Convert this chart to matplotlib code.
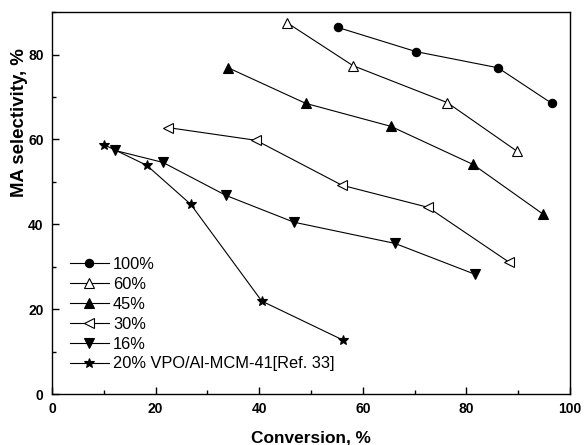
import matplotlib
matplotlib.use("Agg")
import matplotlib.pyplot as plt
from matplotlib.ticker import MultipleLocator

plt.rcParams['font.family'] = ['Liberation Sans', 'DejaVu Sans']

labels = ["100%", "60%", "45%", "30%", "16%", "20% VPO/Al-MCM-41[Ref. 33]"]
x100 = [55.2, 70.3, 86.1, 96.5]
y100 = [86.4, 80.7, 76.9, 68.5]
x60 = [45.4, 58.1, 76.3, 89.8]
y60 = [87.5, 77.4, 68.7, 57.2]
x45 = [34.0, 49.0, 65.4, 81.3, 94.8]
y45 = [76.9, 68.5, 63.1, 54.1, 42.4]
x30 = [22.4, 39.4, 56.0, 72.6, 88.2]
y30 = [62.8, 59.8, 49.2, 44.0, 31.1]
x16 = [12.2, 21.4, 33.6, 46.7, 66.2, 81.7]
y16 = [57.4, 54.6, 46.8, 40.5, 35.5, 28.2]
xref = [10.0, 18.3, 26.8, 40.5, 56.2]
yref = [58.8, 53.9, 44.7, 21.9, 12.7]

fig = plt.figure(figsize=(5.84, 4.45), dpi=100)
ax = fig.add_axes([0.089, 0.1146, 0.887, 0.858])

series = [
    (x100, y100, dict(marker='o', mfc='black', ms=6)),
    (x60, y60, dict(marker='^', mfc='white', ms=6.5)),
    (x45, y45, dict(marker='^', mfc='black', ms=6.5)),
    (x30, y30, dict(marker='<', mfc='white', ms=6.5)),
    (x16, y16, dict(marker='v', mfc='black', ms=6.5)),
    (xref, yref, dict(marker='*', mfc='black', ms=7.5)),
]
for (xs, ys, st), lab in zip(series, labels):
    ax.plot(xs, ys, color='black', lw=0.8, mec='black', mew=0.8, label=lab, **st)

ax.set_xlim(0, 100)
ax.set_ylim(0, 90)
ax.xaxis.set_major_locator(MultipleLocator(20))
ax.xaxis.set_minor_locator(MultipleLocator(10))
ax.yaxis.set_major_locator(MultipleLocator(20))
ax.yaxis.set_minor_locator(MultipleLocator(10))
ax.tick_params(which='both', direction='in', top=False, right=False, width=1.0)
ax.tick_params(which='major', length=5, labelsize=10, pad=6)
ax.tick_params(which='minor', length=3)
for lbl in ax.get_xticklabels() + ax.get_yticklabels():
    lbl.set_fontweight('bold')
for s in ax.spines.values():
    s.set_linewidth(1.0)

ax.set_xlabel('Conversion, %', fontsize=12.4, fontweight='bold', labelpad=10)
ax.set_ylabel('MA selectivity, %', fontsize=13.4, fontweight='bold')
ax.yaxis.set_label_coords(-0.046, 0.71)

leg = ax.legend(loc='upper left', bbox_to_anchor=(0.015, 0.385), frameon=False,
                fontsize=11.8, handlelength=2.4, handletextpad=0.25,
                labelspacing=0.3, borderaxespad=0.2)

fig.savefig('out.png', dpi=100)
